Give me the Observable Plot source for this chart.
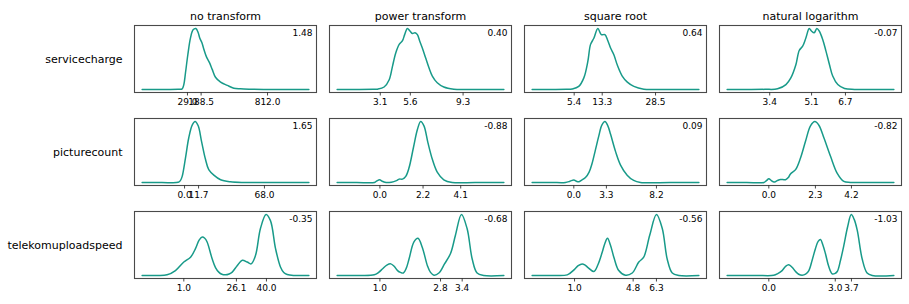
<!DOCTYPE html>
<html>
<head>
<meta charset="utf-8">
<script src="https://cdn.jsdelivr.net/npm/d3@7"></script>
<script src="https://cdn.jsdelivr.net/npm/@observablehq/plot@0.6"></script>
<style>
  html, body { margin: 0; padding: 0; background: #fff; }
</style>
</head>
<body>
<div id="chart"></div>
<script>
// ---- categories ----
const transforms = ["no transform", "power transform", "square root", "natural logarithm"];
const variables = ["servicecharge", "picturecount", "telekomuploadspeed"];

// ---- skewness shown in each panel corner (row = variable, col = transform) ----
const skewServicecharge = [1.48, 0.40, 0.64, -0.07];
const skewPicturecount = [1.65, -0.88, 0.09, -0.82];
const skewTelekomuploadspeed = [-0.35, -0.68, -0.56, -1.03];

// ---- tick labels per panel ----
const ticksServicecharge = [["29.0", "188.5", "812.0"], ["3.1", "5.6", "9.3"], ["5.4", "13.3", "28.5"], ["3.4", "5.1", "6.7"]];
const ticksPicturecount = [["0.0", "11.7", "68.0"], ["0.0", "2.2", "4.1"], ["0.0", "3.3", "8.2"], ["0.0", "2.3", "4.2"]];
const ticksTelekomuploadspeed = [["1.0", "26.1", "40.0"], ["1.0", "2.8", "3.4"], ["1.0", "4.8", "6.3"], ["0.0", "3.0", "3.7"]];

// tick positions along each panel's axis (axis units 0-100)
const tickPosServicecharge = [[29.1, 36.6, 73.1], [27.9, 44.4, 73.4], [27.3, 42.7, 72.0], [27.6, 50.6, 69.2]];
const tickPosPicturecount = [[27.5, 35.2, 71.4], [27.7, 51.4, 72.1], [27.1, 45.0, 72.5], [27.1, 52.7, 72.5]];
const tickPosTelekomuploadspeed = [[27.1, 56.0, 72.5], [27.7, 61.0, 72.9], [27.5, 59.7, 72.5], [27.1, 63.6, 72.5]];

// ---- density curves: [axis position, density relative to panel peak] ----
const scNone = [[4.2,0],[15,0],[24,0.003],[26.2,0.01],[27.1,0.08],[28,0.27],[29.3,0.57],[30.8,0.85],[32.2,0.98],[33.7,1],[35,0.93],[35.9,0.84],[37,0.77],[38.1,0.66],[39.6,0.53],[41.2,0.44],[42.7,0.33],[44.5,0.2],[47.3,0.12],[51,0.066],[54.6,0.02],[58.2,0.01],[63.7,0.004],[71,0],[85,0],[95.8,0]];
const scPower = [[4.2,0],[15,0],[24,0.002],[26.4,0.005],[30,0.04],[32.8,0.16],[34.6,0.38],[36.4,0.6],[38.3,0.74],[40.1,0.8],[41.3,0.9],[42.8,1],[44.2,0.96],[45.5,0.92],[47,0.93],[48.3,0.9],[49.6,0.79],[51,0.68],[52.8,0.52],[54.6,0.36],[56.5,0.22],[59.2,0.11],[62.8,0.04],[68.3,0.005],[75,0],[85,0],[95.8,0]];
const scSqrt = [[4.2,0],[15,0],[23,0.002],[26.2,0.008],[29.8,0.05],[32.6,0.19],[34.8,0.46],[36.3,0.74],[38.1,0.84],[40.3,1],[42.2,0.9],[44.2,0.9],[45.8,0.8],[47.3,0.68],[49.1,0.57],[51,0.4],[53.7,0.22],[56.5,0.12],[60.1,0.05],[65.6,0.005],[72,0],[85,0],[95.8,0]];
const scLog = [[4.2,0],[15,0],[25,0.002],[31.9,0.01],[36.5,0.08],[39.2,0.19],[42,0.41],[43.8,0.64],[45.7,0.71],[47.5,0.85],[49.3,1],[50.5,0.96],[52,0.93],[53.5,1],[54.8,0.96],[56.7,0.82],[58.5,0.63],[60.4,0.41],[62.2,0.22],[65,0.08],[68.7,0.015],[74.2,0],[85,0],[95.8,0]];

const pcNone = [[4.2,0],[15,0],[24,0.002],[25.2,0.03],[26.2,0.1],[28,0.4],[29.8,0.73],[31.7,0.94],[33.3,1],[35,0.93],[36.8,0.68],[39,0.38],[40.8,0.21],[43.6,0.12],[47.3,0.044],[52.7,0.011],[60,0],[75,0],[95.8,0]];
const pcPower = [[4.2,0],[15,0],[24.7,0],[26,0.025],[27.5,0.045],[29,0.02],[30.5,0.002],[34,0.005],[36.8,0.03],[38.3,0.055],[40.1,0.055],[41.9,0.1],[43.7,0.24],[46.1,0.57],[48.3,0.87],[50.1,1],[51.9,0.93],[54.1,0.65],[56.5,0.38],[59.2,0.17],[62.8,0.044],[67.4,0],[80,0],[95.8,0]];
const pcSqrt = [[4.2,0],[15,0],[22.5,0],[25,0.02],[27.1,0.04],[28.5,0.02],[29.8,0.01],[31.5,0.04],[33.5,0.08],[35.5,0.17],[37.2,0.32],[39,0.54],[40.8,0.76],[42.5,0.94],[44.2,1],[45.8,0.93],[47.3,0.79],[50,0.51],[52.7,0.29],[56.4,0.12],[60,0.033],[63.7,0],[80,0],[95.8,0]];
const pcLog = [[4.2,0],[15,0],[24.4,0],[25.8,0.03],[27.1,0.06],[28.5,0.03],[29.9,0.006],[31.7,0.03],[33.5,0.05],[36.3,0.045],[37.8,0.08],[39,0.14],[41.8,0.21],[44.5,0.4],[47.3,0.68],[50,0.93],[52.4,1],[54.6,0.94],[57.4,0.73],[61,0.43],[64.7,0.15],[68.3,0.017],[72,0],[85,0],[95.8,0]];

const tuNone = [[4.2,0],[12,0],[17.9,0.01],[22.5,0.08],[27.1,0.22],[30.8,0.3],[33.5,0.44],[35.5,0.58],[37.2,0.63],[38.6,0.61],[39.9,0.55],[42.7,0.27],[44.5,0.13],[46.3,0.055],[48,0.02],[50,0.01],[52,0.025],[53.7,0.055],[56.4,0.16],[59.2,0.25],[61.9,0.22],[64.1,0.19],[66.5,0.33],[69.2,0.77],[72.3,1],[74.7,0.9],[77.5,0.44],[80.2,0.14],[82,0.05],[83.9,0.016],[87.5,0],[95.8,0]];
const tuPower = [[4.2,0],[15,0],[24.6,0.01],[27,0.05],[29.2,0.11],[31.5,0.17],[33.7,0.19],[35.5,0.15],[37.4,0.08],[39,0.05],[40.6,0.04],[42.2,0.12],[43.7,0.27],[46.4,0.55],[48.6,0.61],[51,0.46],[53.8,0.16],[55.5,0.05],[57.4,0.005],[60.1,0.04],[63.2,0.19],[66.5,0.36],[69.2,0.66],[72.5,1],[75.6,0.77],[78.4,0.27],[81.1,0.04],[84.7,0],[95.8,0]];
const tuSqrt = [[4.2,0],[15,0],[23.5,0.01],[27.5,0.1],[29.5,0.16],[31.7,0.19],[33.3,0.17],[34.9,0.13],[38.1,0.065],[40.4,0.18],[42.7,0.38],[44.2,0.53],[45.6,0.61],[47.2,0.5],[49.1,0.3],[51.8,0.08],[55.5,0.003],[59.2,0.04],[62.8,0.22],[65.5,0.3],[68.8,0.66],[72.5,1],[75.7,0.77],[78.4,0.27],[81.2,0.04],[84.8,0],[95.8,0]];
const tuLog = [[4.2,0],[20,0],[29.8,0.002],[32,0.03],[34.4,0.08],[36.3,0.15],[38.1,0.175],[40,0.13],[41.8,0.065],[43.5,0.02],[45.4,0.003],[47.3,0.02],[49.1,0.08],[50.9,0.25],[52.7,0.44],[54.2,0.56],[55.5,0.59],[56.8,0.5],[58.2,0.36],[60,0.15],[61.9,0.027],[63.3,0.03],[64.7,0.065],[66.5,0.25],[68.3,0.49],[70.4,0.8],[72.4,1],[74,0.92],[75.7,0.74],[78.4,0.27],[81.1,0.04],[83.9,0],[95.8,0]];

// ---- assemble tables for Plot ----
const curvesByVariable = [
  [scNone, scPower, scSqrt, scLog],
  [pcNone, pcPower, pcSqrt, pcLog],
  [tuNone, tuPower, tuSqrt, tuLog]
];
const skewByVariable = [skewServicecharge, skewPicturecount, skewTelekomuploadspeed];
const tickLabelsByVariable = [ticksServicecharge, ticksPicturecount, ticksTelekomuploadspeed];
const tickPosByVariable = [tickPosServicecharge, tickPosPicturecount, tickPosTelekomuploadspeed];

const curveRows = [], skewRows = [], tickRows = [];
variables.forEach((variable, i) => {
  transforms.forEach((transform, j) => {
    for (const [x, y] of curvesByVariable[i][j]) curveRows.push({variable, transform, x, y});
    skewRows.push({variable, transform, label: skewByVariable[i][j].toFixed(2)});
    tickLabelsByVariable[i][j].forEach((label, k) => {
      tickRows.push({variable, transform, pos: tickPosByVariable[i][j][k], label});
    });
  });
});

const yLo = -0.05, yHi = 1.05;
const facetHeight = 67;
const tickLen = 3.5 * (yHi - yLo) / facetHeight;
const lineColor = "#189a89";

const chart = Plot.plot({
  width: 909,
  height: 304,
  marginLeft: 134,
  marginRight: 8,
  marginTop: 24,
  marginBottom: 26,
  style: {fontFamily: "'DejaVu Sans', sans-serif", fontSize: "9px", color: "#000", background: "#fff"},
  x: {domain: [0, 100], axis: null},
  y: {domain: [yLo, yHi], axis: null},
  fx: {domain: transforms, paddingInner: 0.067, paddingOuter: 0},
  fy: {domain: variables, paddingInner: 0.283, paddingOuter: 0},
  marks: [
    Plot.axisFx({anchor: "top", tickSize: 0, tickPadding: 6, fontSize: 11, label: null}),
    Plot.axisFy({anchor: "left", tickSize: 0, tickPadding: 12, fontSize: 11, label: null}),
    Plot.line(curveRows, {x: "x", y: "y", fx: "transform", fy: "variable", stroke: lineColor, strokeWidth: 1.5, curve: "catmull-rom"}),
    Plot.frame({stroke: "#4a4a4a", strokeWidth: 1.1}),
    Plot.ruleX(tickRows, {x: "pos", y1: yLo, y2: yLo - tickLen, fx: "transform", fy: "variable", stroke: "#333", strokeWidth: 0.9}),
    Plot.text(tickRows, {x: "pos", y: yLo, dy: 10, text: "label", fx: "transform", fy: "variable", fontSize: 9, fill: "#000"}),
    Plot.text(skewRows, {fx: "transform", fy: "variable", text: "label", frameAnchor: "top-right", textAnchor: "end", lineAnchor: "middle", dx: -4, dy: 8, fontSize: 9, fill: "#000"})
  ]
});
document.getElementById("chart").appendChild(chart);
</script>
</body>
</html>
